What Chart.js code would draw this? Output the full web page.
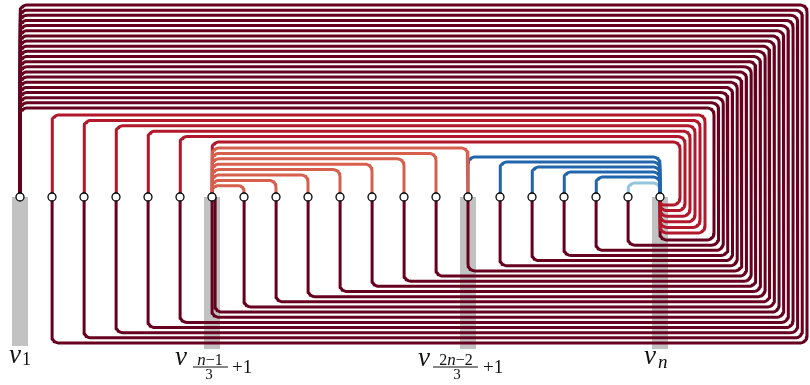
<!DOCTYPE html>
<html><head><meta charset="utf-8">
<script src="https://cdn.jsdelivr.net/npm/chart.js@4.4.0/dist/chart.umd.min.js"></script>
<style>html,body{margin:0;padding:0;background:#fff;}#wrap{width:810px;height:385px;}</style>
</head><body><div id="wrap"><canvas id="c" width="810" height="385"></canvas></div>
<script>
// ---- data: vertices v1..v21 stored as indices 0..20 ----
const vertices = [0,1,2,3,4,5,6,7,8,9,10,11,12,13,14,15,16,17,18,19,20];
// edges v1 -> v_k routed around the outside (outermost first)
const hubTargets = [1,2,3,4,5,6,6,7,8,9,10,11,12,13,14,15,16,17,18,19,20];
// edges v_k -> v_n routed over the top and down the right side (outermost first)
const redSources = [1,2,3,4,5,6];
// edges v_7 -> v_k drawn above the spine (outermost first)
const orangeTargets = [14,13,12,11,10,9,8,7];
// edges v_k -> v_n drawn above the spine (outermost first)
const blueSources = [14,15,16,17,18];
const lightBlueSources = [19];
// highlighted vertices
const markedVertices = [0,6,14,20];

// ---- layout / style ----
const X_MIN = -0.625, X_MAX = 24.6875, Y_MIN = -188, Y_MAX = 197;
const PX_PER_X = 810 / (X_MAX - X_MIN), PX_PER_Y = 385 / (Y_MAX - Y_MIN);
const R = 7;
const COLORS = {hub:'#67001f', red:'#b2182b', orange:'#d6604d', blue:'#2166ac', light:'#92c5de', bar:'#c2c2c2'};

function rounded(pts, rPx){
  const out=[pts[0]];
  for(let i=1;i<pts.length-1;i++){
    const p0=pts[i-1],p1=pts[i],p2=pts[i+1];
    const l1=Math.abs(p1.x-p0.x)*PX_PER_X+Math.abs(p1.y-p0.y)*PX_PER_Y;
    const l2=Math.abs(p2.x-p1.x)*PX_PER_X+Math.abs(p2.y-p1.y)*PX_PER_Y;
    const r=Math.min(rPx,l1/2,l2/2);
    const rx=r/PX_PER_X, ry=r/PX_PER_Y;
    const d1={x:Math.sign(p1.x-p0.x),y:Math.sign(p1.y-p0.y)};
    const d2={x:Math.sign(p2.x-p1.x),y:Math.sign(p2.y-p1.y)};
    const a={x:p1.x-d1.x*rx,y:p1.y-d1.y*ry};
    const b={x:p1.x+d2.x*rx,y:p1.y+d2.y*ry};
    const c={x:a.x+d2.x*rx,y:a.y+d2.y*ry};
    let t0=Math.atan2((a.y-c.y)/ry,(a.x-c.x)/rx), t1=Math.atan2((b.y-c.y)/ry,(b.x-c.x)/rx);
    let dt=t1-t0; while(dt>Math.PI)dt-=2*Math.PI; while(dt<-Math.PI)dt+=2*Math.PI;
    const steps=10;
    for(let k=0;k<=steps;k++){const t=t0+dt*k/steps; out.push({x:c.x+rx*Math.cos(t),y:c.y+ry*Math.sin(t)});}
  }
  out.push(pts[pts.length-1]);
  return out;
}
function lineDs(points,color,width,order){
  return {type:'scatter',data:points,showLine:true,borderColor:color,backgroundColor:color,borderWidth:width,
    pointRadius:0,pointHoverRadius:0,tension:0,borderCapStyle:'butt',borderJoinStyle:'round',fill:false,order:order,clip:false};
}
const datasets=[];
const last = vertices[vertices.length-1];
// highlight bars (filled rectangles below highlighted vertices)
const BAR_HALF = 8/PX_PER_X;
markedVertices.forEach(v=>{
  const depth = v===0 ? -149 : -152;
  datasets.push({type:'scatter',showLine:true,
    data:[{x:v-BAR_HALF,y:0},{x:v+BAR_HALF,y:0},{x:v+BAR_HALF,y:depth},{x:v-BAR_HALF,y:depth},{x:v-BAR_HALF,y:0}],
    borderWidth:0,borderColor:'rgba(0,0,0,0)',backgroundColor:COLORS.bar,fill:'shape',pointRadius:0,tension:0,order:100,clip:false});
});
// hub edges
hubTargets.forEach((t,r)=>{
  const top=192-5.15*r, right=(787-4.65*r)/32, bottom=-146+5.15*r;
  const tx = (r>0 && hubTargets[r-1]===t) ? t+3/32 : t;
  datasets.push(lineDs(rounded([{x:0,y:0},{x:0,y:top},{x:right,y:top},{x:right,y:bottom},{x:tx,y:bottom},{x:tx,y:0}],R),COLORS.hub,3,10));
});
// red edges to v_n
redSources.forEach((s,r)=>{
  const top=82-5.4*r, right=(685-5*r)/32, entry=-36+5.6*r;
  datasets.push(lineDs(rounded([{x:s,y:0},{x:s,y:top},{x:right,y:top},{x:right,y:entry},{x:last,y:entry},{x:last,y:0}],R),COLORS.red,3,9));
});
// orange arcs from v_7
orangeTargets.forEach((t,r)=>{
  const top=49-5.4*r;
  datasets.push(lineDs(rounded([{x:6,y:0},{x:6,y:top},{x:t,y:top},{x:t,y:0}],R),COLORS.orange,3,8));
});
blueSources.forEach((s,r)=>{
  const top=40-5*r;
  datasets.push(lineDs(rounded([{x:s,y:0},{x:s,y:top},{x:last,y:top},{x:last,y:0}],R),COLORS.blue,3,8));
});
lightBlueSources.forEach((s)=>{
  datasets.push(lineDs(rounded([{x:s,y:0},{x:s,y:14},{x:last,y:14},{x:last,y:0}],R),COLORS.light,3,8));
});
// vertices
datasets.push({type:'scatter',data:vertices.map(v=>({x:v,y:0})),pointRadius:4,pointBorderWidth:1.3,
  pointBackgroundColor:'#ffffff',pointBorderColor:'#000000',showLine:false,order:0,clip:false});

const SERIF='"Liberation Serif","DejaVu Serif",serif';
function runs(ctx,x,y,parts,align){
  let w=0; parts.forEach(p=>{ctx.font=p[1]; w+=ctx.measureText(p[0]).width;});
  let sx = align==='center'? x-w/2 : x;
  parts.forEach(p=>{ctx.font=p[1]; ctx.fillText(p[0],sx,y); sx+=ctx.measureText(p[0]).width;});
}
const labelPlugin={id:'labels',afterDraw(chart){
  const ctx=chart.ctx, xs=chart.scales.x;
  ctx.save(); ctx.fillStyle='#111'; ctx.textBaseline='alphabetic'; ctx.textAlign='left';
  const V='italic 27px '+SERIF;
  // v_1
  let cx=xs.getPixelForValue(markedVertices[0]);
  runs(ctx,cx-11,363,[['v',V]]); runs(ctx,cx+2,365,[['1','18px '+SERIF]]);
  // v_{(n-1)/3+1}
  cx=xs.getPixelForValue(markedVertices[1]);
  runs(ctx,cx-37,365,[['v',V]]);
  runs(ctx,cx-2,364.5,[['n','italic 17px '+SERIF],['\u22121','16px '+SERIF]],'center');
  ctx.fillRect(cx-19,366.5,35,1);
  runs(ctx,cx-3,378.5,[['3','15px '+SERIF]],'center');
  runs(ctx,cx+20,373,[['+1','19px '+SERIF]]);
  // v_{(2n-2)/3+1}
  cx=xs.getPixelForValue(markedVertices[2]);
  runs(ctx,cx-50,366,[['v',V]]);
  runs(ctx,cx-12,364.5,[['2','16px '+SERIF],['n','italic 17px '+SERIF],['\u22122','16px '+SERIF]],'center');
  ctx.fillRect(cx-35,366.5,45,1);
  runs(ctx,cx-11,379,[['3','15px '+SERIF]],'center');
  runs(ctx,cx+15,373,[['+1','19px '+SERIF]]);
  // v_n
  cx=xs.getPixelForValue(markedVertices[3]);
  runs(ctx,cx-16,364,[['v',V]]); runs(ctx,cx-2,368,[['n','italic 19px '+SERIF]]);
  ctx.restore();
}};

new Chart(document.getElementById('c'),{
  type:'scatter',
  data:{datasets},
  options:{responsive:false,animation:false,events:[],
    layout:{padding:0,autoPadding:false},
    plugins:{legend:{display:false},tooltip:{enabled:false},filler:{drawTime:'beforeDatasetsDraw'}},
    scales:{x:{type:'linear',min:X_MIN,max:X_MAX,display:false},y:{type:'linear',min:Y_MIN,max:Y_MAX,display:false}}},
  plugins:[labelPlugin]
});
</script></body></html>
